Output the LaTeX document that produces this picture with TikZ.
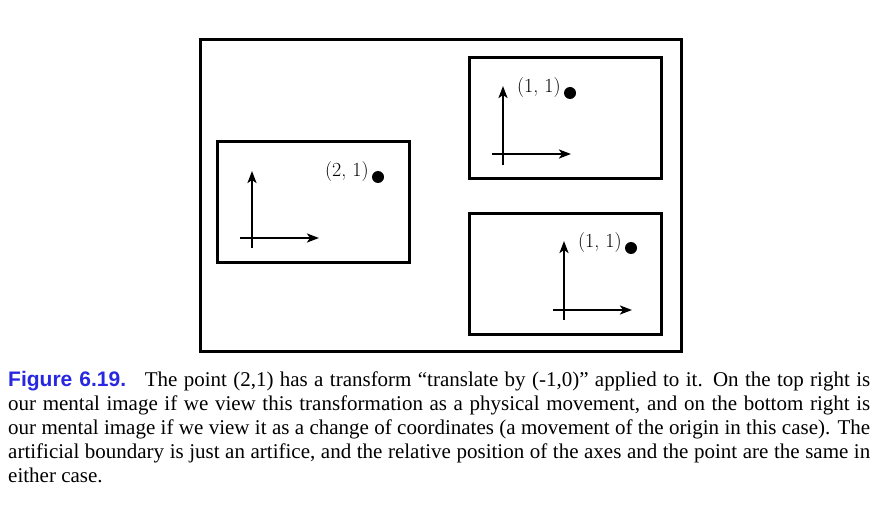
\documentclass[tikz,border=0pt]{standalone}
\usepackage{fontspec}
\setmainfont{Liberation Serif}
\newfontfamily\capsans{Liberation Sans}
\newfontfamily\lmfont{Latin Modern Roman}
\usetikzlibrary{arrows.meta}
\definecolor{figblue}{RGB}{40,40,225}
\begin{document}
\begin{tikzpicture}[x=1pt,y=-1pt,
  frame/.style={draw,line width=2.8pt,minimum width=#1,inner sep=0pt,anchor=north west},
  axis/.style={line width=2.4pt,-{Stealth[length=12pt,width=9pt,inset=3pt]}},
  dot/.style={circle,fill,inner sep=0pt,minimum size=12pt},
  lab/.style={font=\lmfont\fontsize{20}{24}\selectfont,inner sep=0pt,anchor=east}]
\useasboundingbox (0,0) rectangle (892,513);
% frames
\node[frame=481pt,minimum height=312pt] (outer) at (199,38) {};
\node[frame=192pt,minimum height=121pt] (left) at (216,140) {};
\node[frame=192pt,minimum height=121pt] (topr) at (468,56) {};
\node[frame=192pt,minimum height=121pt] (botr) at (468,212) {};
% left axes
\coordinate (l-vb) at (252,248); \coordinate (l-vt) at (252,171);
\coordinate (l-hl) at (240,238); \coordinate (l-hr) at (319,238);
\draw[axis] (l-vb) -- (l-vt);
\draw[axis] (l-hl) -- (l-hr);
\node[dot] (l-dot) at (378,177) {};
\node[lab] (l-lab) at ([xshift=-3pt,yshift=5pt]l-dot.west) {(2, 1)};
% top right axes
\coordinate (t-vb) at (503,165); \coordinate (t-vt) at (503,86);
\coordinate (t-hl) at (492,154); \coordinate (t-hr) at (571,154);
\draw[axis] (t-vb) -- (t-vt);
\draw[axis] (t-hl) -- (t-hr);
\node[dot] (t-dot) at (570,93) {};
\node[lab] (t-lab) at ([xshift=-3pt,yshift=5pt]t-dot.west) {(1, 1)};
% bottom right axes
\coordinate (b-vb) at (564,320); \coordinate (b-vt) at (564,241);
\coordinate (b-hl) at (553,310); \coordinate (b-hr) at (632,310);
\draw[axis] (b-vb) -- (b-vt);
\draw[axis] (b-hl) -- (b-hr);
\node[dot] (b-dot) at (631,248) {};
\node[lab] (b-lab) at ([xshift=-3pt,yshift=5pt]b-dot.west) {(1, 1)};
% caption
\node[anchor=base west,inner sep=0pt,text width=862pt,align=justify,
  font=\fontsize{21}{24}\selectfont] (cap) at (8,386)
  {{\capsans\bfseries\color{figblue}Figure 6.19.}\hspace{0.4em} The point (2,1) has a transform “translate by (-1,0)” applied to it. On the top right is\linebreak
  our mental image if we view this transformation as a physical movement, and on the bottom right is\linebreak
  our mental image if we view it as a change of coordinates (a movement of the origin in this case). The\linebreak
  artificial boundary is just an artifice, and the relative position of the axes and the point are the same in\linebreak
  either case.};
\end{tikzpicture}
\end{document}
